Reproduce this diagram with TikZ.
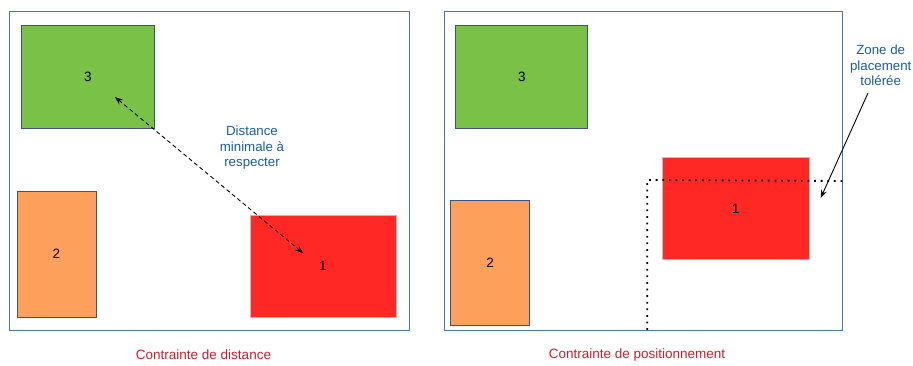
\documentclass[tikz,border=0pt]{standalone}
\usepackage{fontspec}
\setmainfont{Liberation Sans}
\usetikzlibrary{arrows.meta}
\definecolor{framec}{RGB}{74,118,176}
\definecolor{greenc}{RGB}{122,193,72}
\definecolor{orangec}{RGB}{252,160,92}
\definecolor{redc}{RGB}{255,40,36}
\definecolor{boxedge}{RGB}{60,85,125}
\definecolor{rededge}{RGB}{190,190,190}
\definecolor{textblue}{RGB}{30,90,160}
\definecolor{captred}{RGB}{205,30,45}
\begin{document}
\begin{tikzpicture}[x=1pt,y=-1pt,
  frame/.style={draw=framec,line width=1pt},
  boxg/.style={draw=boxedge,line width=0.8pt,fill=greenc,font=\fontsize{13.5}{15}\selectfont},
  boxo/.style={draw=boxedge,line width=0.8pt,fill=orangec,font=\fontsize{13.5}{15}\selectfont},
  boxr/.style={draw=rededge,line width=0.8pt,fill=redc,font=\fontsize{13.5}{15}\selectfont},
  note/.style={text=textblue,align=center,font=\fontsize{13.3}{15.5}\selectfont,inner sep=0pt},
  caption/.style={text=captred,font=\fontsize{13.5}{15}\selectfont,inner sep=0pt},
  dasharrow/.style={line width=0.9pt,dash pattern=on 4pt off 3pt,{Stealth[length=8pt,width=6pt]}-{Stealth[length=8pt,width=6pt]}},
  pointer/.style={line width=0.9pt,-{Stealth[length=8pt,width=6pt]}},
  zone/.style={line width=1.8pt,dash pattern=on 1.8pt off 4.8pt}
]
\useasboundingbox (0,0) rectangle (913,365);
% left panel
\draw[frame] (9.5,11) rectangle (409,330);
\node[boxg,minimum width=133pt,minimum height=102.5pt] (g3L) at (88,76.75) {3};
\node[boxo,minimum width=79pt,minimum height=126pt] (o2L) at (56.5,254) {2};
\node[boxr,minimum width=146pt,minimum height=102pt] (r1L) at (323,266) {};
\node[font=\fontsize{13.5}{15}\selectfont] (l1L) at (323,266) {1};
\coordinate (aS) at (115,97);
\coordinate (aE) at (303,253);
\draw[dasharrow] (aS) -- (aE);
\node[note] (nL) at (252,148) {Distance\\minimale à\\respecter};
\node[caption] (cL) at (203.5,355) {Contrainte de distance};
% right panel
\draw[frame] (444,11) rectangle (842,330);
\node[boxg,minimum width=132pt,minimum height=102.5pt] (g3R) at (521.75,76.75) {3};
\node[boxo,minimum width=78.6pt,minimum height=125.7pt] (o2R) at (490,262.85) {2};
\node[boxr,minimum width=146.7pt,minimum height=102pt] (r1R) at (735.7,208.7) {1};
\draw[zone] (647.3,330) -- (647.3,180) -- (845,181);
\node[note] (nR) at (880.7,65.5) {Zone de\\placement\\tolérée};
\coordinate (pS) at (868,93);
\coordinate (pE) at (820.7,198);
\draw[pointer] (pS) -- (pE);
\node[caption] (cR) at (637,355) {Contrainte de positionnement};
\end{tikzpicture}
\end{document}
